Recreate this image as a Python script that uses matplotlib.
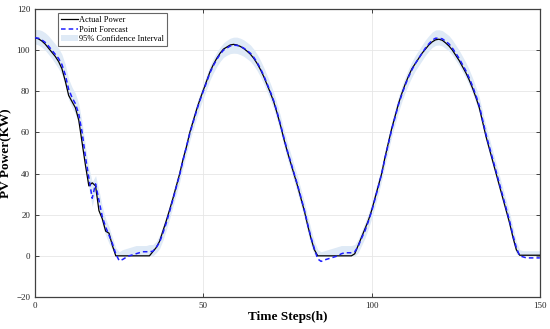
import matplotlib.pyplot as plt
import numpy as np

plt.rcParams['font.family'] = ['Liberation Serif', 'DejaVu Serif']

steps = np.arange(0, 151)

actual_power = [
    106, 105.5, 104.5, 103, 101, 99, 97, 94.5, 91, 85,
    78, 75, 72, 66, 55, 44, 34, 35.5, 34, 22,
    18, 12, 11, 5, 0, 0, 0, 0, 0, 0,
    0, 0, 0, 0, 0, 2, 4, 7, 12, 17,
    22.4, 28, 34, 40, 47, 53, 60, 65.5, 71, 76,
    80.5, 85, 89.5, 93, 96, 98.5, 100.5, 101.5, 102.5, 102.8,
    102.5, 101.8, 100.8, 99.5, 98, 96, 93.5, 90.5, 87, 83,
    79, 74.5, 69, 63, 56.5, 50.5, 45, 39.5, 34, 28,
    22, 15, 8.5, 3, 0, 0, 0, 0, 0, 0,
    0, 0, 0, 0, 0, 1, 5, 9, 13, 17,
    22, 28, 34, 40, 48, 55, 62, 68, 74, 79,
    83.5, 87.5, 91, 93.5, 96, 98.5, 100.5, 102.5, 104, 105,
    105.3, 104.8, 103.5, 102, 100, 97.5, 95, 92, 89, 85.5,
    81.5, 77, 72, 65, 58, 52, 46, 40, 34, 28,
    22, 16, 9, 3, 0.3, 0.3, 0.3, 0.3, 0.3, 0.3, 0.3,
]

point_forecast = [
    106, 105.8, 105, 103.8, 102, 100, 98, 96, 93, 88,
    81, 77, 74, 69, 60, 48, 38, 28, 35, 27,
    19, 14, 10, 6, 1, -2.3, -1.8, -0.8, 0, 0.5,
    1, 1.5, 2, 2, 2, 2.2, 4, 6.5, 11, 16,
    21.5, 27.5, 33.5, 39.5, 46.5, 53, 59.5, 65, 70.5, 75.5,
    80, 84.5, 89, 92.5, 95.5, 98, 100, 101, 102, 102.4,
    102.3, 101.8, 101, 99.8, 98.5, 96.5, 94, 91, 87.5, 83.5,
    79.5, 75, 69.5, 63.5, 57, 51, 45.5, 40, 34.5, 28.5,
    22.5, 15.5, 9, 3.5, -1.5, -2.7, -2, -1.5, -1, -0.5,
    0, 1, 1.5, 1.5, 1.5, 2, 4.5, 8.5, 12, 16.5,
    21.5, 27.5, 33.5, 40, 47.5, 54.5, 61.5, 67.5, 73.5, 78.5,
    83, 87, 90.5, 93.5, 96, 98.5, 101, 103, 104.8, 105.8,
    105.8, 105.5, 104.3, 103, 101, 98.5, 96, 93, 90, 86.5,
    82.5, 78, 73, 66, 59, 53, 47, 41, 35, 29,
    23, 17, 10, 4, 0, -0.5, -1, -1, -1, -1, -1,
]

ci_upper = [
    110, 110, 109.5, 108.5, 107, 105, 103, 101, 98, 93,
    86, 82, 79, 74, 65, 53, 43, 36, 39, 32,
    24, 18, 14, 9, 4, 2, 3, 3.5, 4, 4.5,
    5, 5, 5, 5, 5.5, 5.5, 7, 10, 14.5, 19.5,
    25, 31, 37, 43, 50, 56.5, 63, 68.5, 74, 79,
    83.5, 88, 92.5, 96, 99, 101.5, 103.5, 104.8, 105.8, 106.3,
    106.3, 105.8, 105, 103.8, 102.5, 100.5, 98, 95, 91.5, 87.5,
    83.5, 79, 73.5, 67.5, 61, 55, 49.5, 44, 38.5, 32.5,
    26.5, 19.5, 13, 7, 3, 2, 2.5, 3, 3.5, 4,
    4.5, 5, 5, 5, 5, 5.5, 8, 12, 16, 20.5,
    25.5, 31.5, 37.5, 44, 51.5, 58.5, 65.5, 71.5, 77.5, 82.5,
    87, 91, 94.5, 97.5, 100, 102.5, 105, 107, 108.8, 109.8,
    109.9, 109.5, 108.3, 107, 105, 102.5, 100, 97, 94, 90.5,
    86.5, 82, 77, 70, 63, 57, 51, 45, 39, 33,
    27, 21, 14, 7, 3, 2.5, 2.5, 2.5, 2.5, 2.5, 2.5,
]

ci_lower = [
    103, 102.5, 101.5, 100, 98, 96, 93.5, 91, 88, 83,
    76, 72, 69, 64, 55, 43, 33, 24, 31, 23,
    15, 10, 6, 3, 0, 0, 0, 0, 0, 0,
    0, 0, 0, 0, 0, 0, 1.5, 3.5, 7.5, 12.5,
    18, 24, 30, 36, 43, 49.5, 56, 61.5, 67, 72,
    76.5, 81, 85.5, 89, 92, 94.5, 96.5, 97.5, 98.3, 98.5,
    98.4, 97.8, 97, 95.8, 94.5, 92.5, 90, 87, 83.5, 79.5,
    75.5, 71, 65.5, 59.5, 53, 47, 41.5, 36, 30.5, 24.5,
    18.5, 11.5, 5, 0.5, 0, 0, 0, 0, 0, 0,
    0, 0, 0, 0, 0, 0, 1.5, 5, 8.5, 13,
    18, 24, 30, 36.5, 44, 51, 58, 64, 70, 75,
    79.5, 83.5, 87, 90, 92.5, 95, 97.5, 99.5, 101.3, 102.3,
    102.5, 102, 100.8, 99.5, 97.5, 95, 92.5, 89.5, 86.5, 83,
    79, 74.5, 69.5, 62.5, 55.5, 49.5, 43.5, 37.5, 31.5, 25.5,
    19.5, 13.5, 6.5, 1, 0, 0, 0, 0, 0, 0, 0,
]

x_ticks = [0, 50, 100, 150]
y_ticks = [-20, 0, 20, 40, 60, 80, 100, 120]

fig = plt.figure(figsize=(5.5, 3.29), dpi=100)
ax = fig.add_axes([0.0636, 0.0973, 0.918, 0.8754])

ax.fill_between(steps, ci_lower, ci_upper, color='#dfeaf6', linewidth=0,
                label='95% Confidence Interval', zorder=1)
ax.plot(steps, actual_power, color='black', linewidth=0.9, label='Actual Power', zorder=3)
ax.plot(steps, point_forecast, color='#1f1fff', linewidth=1.1, linestyle=(0, (3, 2)),
        label='Point Forecast', zorder=4)

ax.set_xlim(0, 150)
ax.set_ylim(-20, 120)
ax.set_xticks(x_ticks)
ax.set_yticks(y_ticks)
ax.grid(True, color='#e6e6e6', linewidth=0.6)
ax.set_axisbelow(True)

ax.tick_params(direction='in', length=3, width=0.7, colors='#404040',
               labelsize=6.5, labelcolor='#262626', top=True, right=True)
for sp in ax.spines.values():
    sp.set_color('#404040')
    sp.set_linewidth(0.9)

ax.set_xlabel('Time Steps(h)', fontsize=9.5, fontweight='bold')
ax.set_ylabel('PV Power(KW)', fontsize=9.5, fontweight='bold')
ax.xaxis.set_label_coords(0.5, -0.05)
ax.yaxis.set_label_coords(-0.045, 0.5)

handles, labels = ax.get_legend_handles_labels()
order = [1, 2, 0]
leg = ax.legend([handles[i] for i in order], [labels[i] for i in order],
                loc='upper left', bbox_to_anchor=(0.046, 0.986), fontsize=6,
                frameon=True, fancybox=False, borderpad=0.35, labelspacing=0.2,
                handlelength=2.0, handletextpad=0.2, borderaxespad=0)
leg.get_frame().set_edgecolor('#404040')
leg.get_frame().set_linewidth(0.8)

fig.savefig('out.png', dpi=100)
